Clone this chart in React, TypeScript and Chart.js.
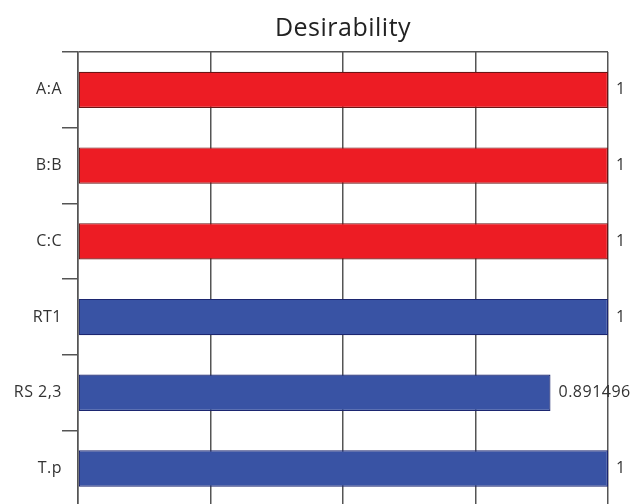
import React, { useEffect, useRef } from "react";
import { Chart, registerables } from "chart.js";

Chart.register(...registerables);

const categories: string[] = ["A:A", "B:B", "C:C", "RT1", "RS 2,3", "T.p"];
const desirability: number[] = [1, 1, 1, 1, 0.891496, 1];
const groups: string[] = ["factor", "factor", "factor", "response", "response", "response"];
const xTicks: number[] = [0, 0.25, 0.5, 0.75, 1];

const FILL: Record<string, string> = { factor: "#ED1C24", response: "#3953A4" };
const EDGE: Record<string, string> = { factor: "#6B1414", response: "#1C2670" };
const GRID = "#555555";
const FONT = "'Open Sans', 'Noto Sans', sans-serif";

const spacing = {
  id: "spacing",
  beforeDraw(chart: any) {
    (chart.ctx as any).letterSpacing = "0.5px";
  },
};

const valueLabels = {
  id: "valueLabels",
  afterDatasetsDraw(chart: any) {
    const ctx = chart.ctx;
    const meta = chart.getDatasetMeta(0);
    ctx.save();
    ctx.font = `16px ${FONT}`;
    ctx.fillStyle = "#333333";
    ctx.textAlign = "left";
    ctx.textBaseline = "middle";
    meta.data.forEach((el: any, i: number) => {
      ctx.fillText(String(desirability[i]), el.x + 8, el.y);
    });
    ctx.restore();
  },
};

export default function App() {
  const ref = useRef<HTMLCanvasElement | null>(null);
  useEffect(() => {
    if (!ref.current) return;
    const chart = new Chart(ref.current, {
      type: "bar",
      data: {
        labels: categories,
        datasets: [
          {
            data: desirability,
            backgroundColor: groups.map((g) => FILL[g]),
            borderColor: groups.map((g) => EDGE[g]),
            borderWidth: 1.2,
            borderSkipped: false,
            categoryPercentage: 1,
            barPercentage: 0.48,
          },
        ],
      },
      options: {
        indexAxis: "y",
        responsive: false,
        animation: false,
        layout: { padding: { left: 0, right: 28, top: 0, bottom: 0 } },
        plugins: {
          legend: { display: false },
          tooltip: { enabled: false },
          title: {
            display: true,
            text: "Desirability",
            fullSize: false,
            color: "#222222",
            font: { family: FONT, size: 25, weight: "normal" },
            padding: { top: 14, bottom: 8 },
          },
        },
        scales: {
          x: {
            type: "linear",
            min: 0,
            max: 1,
            afterBuildTicks: (s: any) => {
              s.ticks = xTicks.map((v) => ({ value: v }));
            },
            ticks: { display: false },
            border: { display: false },
            grid: { color: GRID, lineWidth: 1.5, drawTicks: false },
          },
          y: {
            type: "category",
            offset: true,
            afterFit: (s: any) => {
              s.width = 78;
            },
            ticks: {
              color: "#333333",
              font: { family: FONT, size: 16 },
              padding: 0,
            },
            border: { display: true, color: GRID, width: 1.5 },
            grid: {
              offset: true,
              drawOnChartArea: true,
              color: (c: any) => (c.index === 0 ? GRID : "rgba(0,0,0,0)"),
              tickColor: GRID,
              lineWidth: 1.5,
              tickLength: 16,
              tickWidth: 1.5,
            },
          },
        },
      },
      plugins: [spacing, valueLabels],
    });
    return () => chart.destroy();
  }, []);
  return (
    <div style={{ position: "absolute", left: 0, top: 0, width: 636, height: 516, overflow: "hidden" }}>
      <canvas ref={ref} width={636} height={516} style={{ width: 636, height: 516 }} />
    </div>
  );
}
